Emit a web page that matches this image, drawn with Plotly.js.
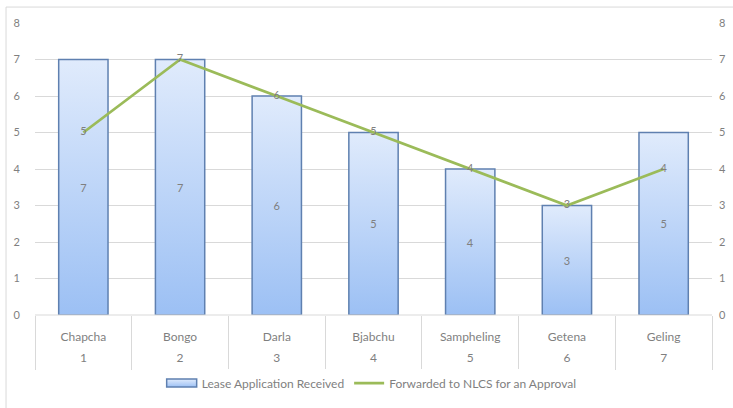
<!DOCTYPE html>
<html>
<head>
<meta charset="utf-8">
<script src="https://cdn.plot.ly/plotly-3.0.1.min.js"></script>
<style>html,body{margin:0;padding:0;background:#fff;}</style>
</head>
<body>
<div id="chart" style="width:733px;height:408px;"></div>
<script>
const places = ["Chapcha", "Bongo", "Darla", "Bjabchu", "Sampheling", "Getena", "Geling"];
const serial = ["1", "2", "3", "4", "5", "6", "7"];
const received = [7, 7, 6, 5, 4, 3, 5];
const forwarded = [5, 7, 6, 5, 4, 3, 4];
const yTicks = [0, 1, 2, 3, 4, 5, 6, 7, 8];

const FONT = "Lato, 'Open Sans', sans-serif";
const GRAY = "#7f7f7f";

const traces = [
  {
    type: "bar",
    name: "Lease Application Received",
    x: places,
    y: received,
    text: received.map(String),
    textposition: "inside",
    insidetextanchor: "middle",
    textfont: {family: FONT, size: 11, color: GRAY},
    width: 0.51,
    marker: {color: "#bcd4f8", line: {color: "#5f80b0", width: 1.5}},
    xaxis: "x",
    yaxis: "y",
    hoverinfo: "skip"
  },
  {
    type: "scatter",
    mode: "lines+text",
    name: "Forwarded to NLCS for an Approval",
    x: places,
    y: forwarded,
    text: forwarded.map(String),
    textposition: "middle center",
    textfont: {family: FONT, size: 11, color: GRAY},
    line: {color: "#9bbb59", width: 2.8},
    xaxis: "x2",
    yaxis: "y2",
    hoverinfo: "skip"
  }
];

const catAxisBase = {
  type: "category",
  showline: false,
  showgrid: false,
  zeroline: false,
  tickfont: {family: FONT, size: 12, color: GRAY}
};

const layout = {
  width: 733,
  height: 408,
  margin: {l: 35, r: 21, t: 23, b: 92},
  paper_bgcolor: "#ffffff",
  plot_bgcolor: "#ffffff",
  font: {family: FONT, size: 12, color: GRAY},
  showlegend: true,
  legend: {
    orientation: "h",
    x: 0.4973, xanchor: "center",
    y: -0.229, yanchor: "middle",
    font: {family: FONT, size: 12, color: GRAY},
    traceorder: "normal",
    itemwidth: 30
  },
  xaxis: Object.assign({}, catAxisBase, {
    categoryarray: places,
    categoryorder: "array",
    ticks: "outside",
    tickson: "boundaries",
    ticklen: 54,
    tickwidth: 1,
    tickcolor: "#d9d9d9",
    ticklabelstandoff: 13
  }),
  xaxis2: Object.assign({}, catAxisBase, {
    overlaying: "x",
    matches: "x",
    side: "bottom",
    tickvals: places,
    ticktext: serial,
    ticks: "",
    ticklabelstandoff: 34
  }),
  yaxis: {
    range: [0, 8],
    tickvals: yTicks,
    ticktext: yTicks.map(String),
    showgrid: true,
    gridcolor: "#d9d9d9",
    gridwidth: 1,
    zeroline: false,
    showline: false,
    ticks: "",
    ticklabelstandoff: 14,
    tickfont: {family: FONT, size: 11, color: GRAY}
  },
  yaxis2: {
    range: [0, 8],
    tickvals: yTicks,
    ticktext: yTicks.map(String),
    overlaying: "y",
    side: "right",
    showgrid: false,
    zeroline: false,
    showline: false,
    ticks: "",
    ticklabelstandoff: 6,
    tickfont: {family: FONT, size: 11, color: GRAY}
  },
  shapes: [
    {
      type: "rect", xref: "paper", yref: "paper",
      x0: -0.0428, x1: 1.1, y0: -0.4, y1: 1.0546,
      line: {color: "#d9d9d9", width: 1},
      fillcolor: "rgba(0,0,0,0)",
      layer: "below"
    },
    {
      type: "line", xref: "paper", yref: "paper",
      x0: 0, x1: 1, y0: 0, y1: 0,
      line: {color: "#d9d9d9", width: 1}
    }
  ]
};

Plotly.newPlot("chart", traces, layout, {displayModeBar: false, staticPlot: true}).then(function (gd) {
  const svg = gd.querySelector(".main-svg");
  let defs = svg.querySelector("defs");
  const NS = "http://www.w3.org/2000/svg";
  if (!defs) { defs = document.createElementNS(NS, "defs"); svg.insertBefore(defs, svg.firstChild); }
  const grad = document.createElementNS(NS, "linearGradient");
  grad.setAttribute("id", "barGrad");
  grad.setAttribute("x1", "0"); grad.setAttribute("y1", "0");
  grad.setAttribute("x2", "0"); grad.setAttribute("y2", "1");
  [["0%", "#e0ebfc"], ["100%", "#9cc0f4"]].forEach(function (s) {
    const st = document.createElementNS(NS, "stop");
    st.setAttribute("offset", s[0]);
    st.setAttribute("stop-color", s[1]);
    grad.appendChild(st);
  });
  defs.appendChild(grad);
  gd.querySelectorAll(".barlayer .point path").forEach(function (p) { p.style.fill = "url(#barGrad)"; });
  gd.querySelectorAll(".legend .traces").forEach(function (t, i) {
    if (i !== 0) return;
    t.querySelectorAll(".legendpoints path").forEach(function (p) {
      if (p.style.fill && p.style.fill !== "none") {
        p.setAttribute("d", "M15,4H-15V-4H15Z");
        p.style.fill = "url(#barGrad)";
      }
    });
  });
});
</script>
</body>
</html>
